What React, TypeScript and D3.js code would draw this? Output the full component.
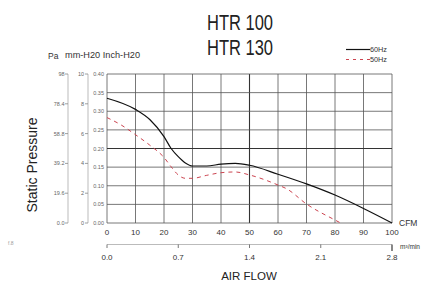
import React from 'react';
import * as d3 from 'd3';

// 60Hz curve (CFM vs inch-H2O)
const flow60 = [0, 10, 15, 20, 22.5, 25, 27.5, 30, 35, 40, 45, 50, 60, 70, 80, 90, 100];
const press60 = [0.335, 0.305, 0.278, 0.232, 0.2, 0.178, 0.161, 0.153, 0.153, 0.158, 0.16, 0.155, 0.131, 0.105, 0.075, 0.039, 0.0];

// 50Hz curve
const flow50 = [0, 5, 10, 15, 20, 22.5, 25, 27.5, 30, 35, 40, 45, 50, 60, 63, 70, 80, 82];
const press50 = [0.283, 0.263, 0.237, 0.209, 0.176, 0.151, 0.129, 0.12, 0.12, 0.128, 0.135, 0.137, 0.129, 0.102, 0.092, 0.051, 0.008, 0.0];

const cfmTicks = [0, 10, 20, 30, 40, 50, 60, 70, 80, 90, 100];
const inchTicks = [0, 0.05, 0.1, 0.15, 0.2, 0.25, 0.3, 0.35, 0.4];
const mmTicks = [0, 2, 4, 6, 8, 10];
const paTicks = [0, 19.6, 39.2, 58.8, 78.4, 98];
const paLabels = ['0.0', '19.6', '39.2', '58.8', '78.4', '98'];
const m3Ticks = [0, 0.7, 1.4, 2.1, 2.8];
const m3Labels = ['0.0', '0.7', '1.4', '2.1', '2.8'];

const red = '#cc4450';
const grey = '#666';
const sans = 'Liberation Sans, Arial, sans-serif';

export default function App() {
  const x = d3.scaleLinear().domain([0, 100]).range([107, 392]);
  const y = d3.scaleLinear().domain([0, 0.4]).range([223, 74]);
  const yMm = d3.scaleLinear().domain([0, 10]).range([223, 74]);
  const yPa = d3.scaleLinear().domain([0, 98]).range([223, 74]);
  const xM3 = d3.scaleLinear().domain([0, 2.8]).range([107, 392]);

  const line = d3.line<number>().curve(d3.curveMonotoneX);

  const path60 = line.x((d, i) => x(flow60[i])).y((d) => y(d))(press60) || '';
  const path50 = line.x((d, i) => x(flow50[i])).y((d) => y(d))(press50) || '';

  return (
    <svg width={421} height={284} style={{ position: 'absolute', left: 0, top: 0, background: '#fff' }}>
      {/* titles */}
      <text x={207} y={29.5} fontFamily={sans} fontSize={21.5} fill="#222" textLength={66} lengthAdjust="spacingAndGlyphs">HTR 100</text>
      <text x={207} y={54.5} fontFamily={sans} fontSize={21.5} fill="#222" textLength={66} lengthAdjust="spacingAndGlyphs">HTR 130</text>

      {/* legend */}
      <line x1={346} x2={370} y1={49.5} y2={49.5} stroke="#111" strokeWidth={1.2} />
      <text x={370} y={52} fontFamily={sans} fontSize={7} fill="#333" textLength={17} lengthAdjust="spacingAndGlyphs">60Hz</text>
      <line x1={346} x2={370} y1={59.5} y2={59.5} stroke={red} strokeWidth={1.2} strokeDasharray="3,4" />
      <text x={370} y={62} fontFamily={sans} fontSize={7} fill="#333" textLength={17} lengthAdjust="spacingAndGlyphs">50Hz</text>

      {/* unit headers */}
      <text x={48} y={59} fontFamily={sans} fontSize={8.5} fill="#333">Pa</text>
      <text x={65} y={58} fontFamily={sans} fontSize={8.5} fill="#333" textLength={75} lengthAdjust="spacingAndGlyphs">mm-H20  Inch-H20</text>

      {/* grid */}
      {cfmTicks.map((t) => (
        <line key={'vx' + t} x1={x(t)} x2={x(t)} y1={74} y2={223}
          stroke={t === 50 ? '#333' : '#555'} strokeWidth={t === 50 ? 1.1 : 0.8} />
      ))}
      {inchTicks.map((t) => (
        <line key={'hy' + t} x1={107} x2={392} y1={y(t)} y2={y(t)}
          stroke={t === 0.2 ? '#333' : '#555'} strokeWidth={t === 0.2 ? 1.1 : 0.8} />
      ))}

      {/* inch axis labels */}
      {inchTicks.map((t) => (
        <text key={'il' + t} x={104} y={y(t) + 2} textAnchor="end" fontFamily={sans} fontSize={5.5} fill={grey}>
          {t.toFixed(2)}
        </text>
      ))}

      {/* mm axis */}
      <line x1={88} x2={88} y1={74} y2={223} stroke="#aaa" strokeWidth={0.8} />
      {mmTicks.map((t) => (
        <g key={'mm' + t}>
          <line x1={85} x2={88} y1={yMm(t)} y2={yMm(t)} stroke="#888" strokeWidth={0.8} />
          <text x={84} y={yMm(t) + 2} textAnchor="end" fontFamily={sans} fontSize={5.5} fill={grey}>{t}</text>
        </g>
      ))}

      {/* Pa axis */}
      <line x1={68} x2={68} y1={74} y2={223} stroke="#aaa" strokeWidth={0.8} />
      {paTicks.map((t, i) => (
        <g key={'pa' + t}>
          <line x1={65} x2={68} y1={yPa(t)} y2={yPa(t)} stroke="#888" strokeWidth={0.8} />
          <text x={64.5} y={yPa(t) + 2} textAnchor="end" fontFamily={sans} fontSize={5.5} fill={grey}>{paLabels[i]}</text>
        </g>
      ))}

      <text transform="translate(37,165) rotate(-90)" textAnchor="middle" fontFamily={sans} fontSize={14} fill="#222">
        Static Pressure
      </text>

      {/* curves */}
      <path d={path50} fill="none" stroke={red} strokeWidth={1} strokeDasharray="4,4" />
      <path d={path60} fill="none" stroke="#111" strokeWidth={1.2} />

      {/* CFM labels */}
      {cfmTicks.map((t) => (
        <text key={'cl' + t} x={x(t)} y={235} textAnchor="middle" fontFamily={sans} fontSize={8} fill="#333">{t}</text>
      ))}
      <text x={399} y={226} fontFamily={sans} fontSize={8.5} fill="#333">CFM</text>

      {/* m3/min axis */}
      <line x1={107} x2={392} y1={244.5} y2={244.5} stroke="#aaa" strokeWidth={0.8} />
      {m3Ticks.map((t, i) => (
        <g key={'m3' + t}>
          <line x1={xM3(t)} x2={xM3(t)} y1={244.5} y2={i === 4 ? 251 : 248}
            stroke="#555" strokeWidth={i === 4 ? 1.4 : 0.8} />
          <text x={xM3(t)} y={259.5} textAnchor="middle" fontFamily={sans} fontSize={8} fill="#333">{m3Labels[i]}</text>
        </g>
      ))}
      <text x={400} y={249} fontFamily={sans} fontSize={7} fill="#333" textLength={20} lengthAdjust="spacingAndGlyphs">m³/min</text>

      <text x={249} y={280} textAnchor="middle" fontFamily={sans} fontSize={11.5} fill="#222">AIR FLOW</text>

      <text x={8} y={245} fontFamily={sans} fontSize={5} fill="#999">f.8</text>
    </svg>
  );
}
